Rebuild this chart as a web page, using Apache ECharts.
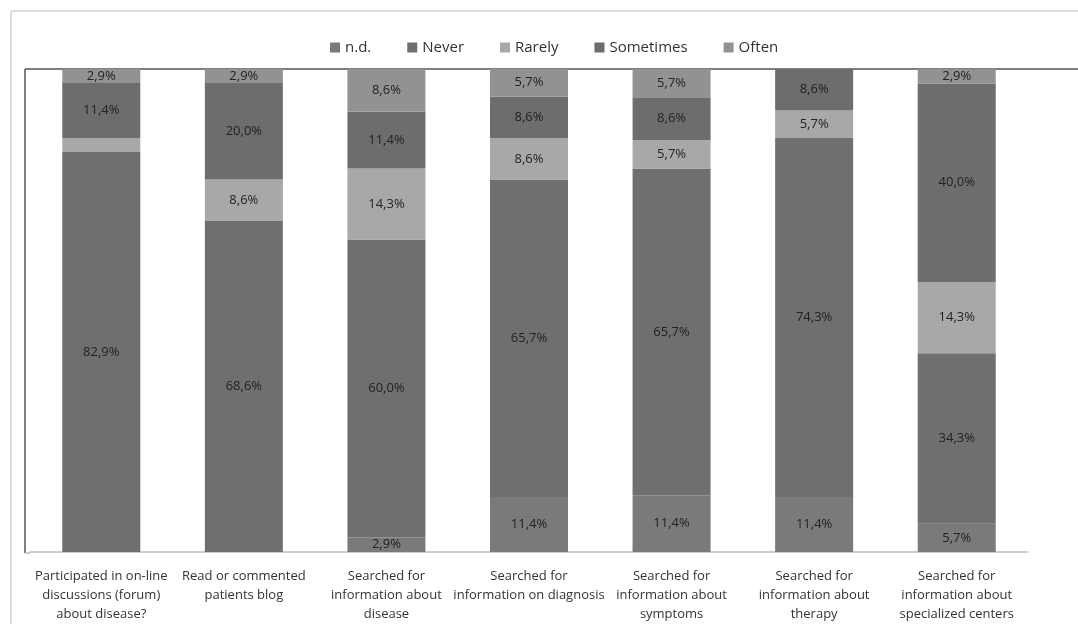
<!DOCTYPE html>
<html>
<head>
<meta charset="utf-8">
<script src="https://cdn.jsdelivr.net/npm/echarts@6/dist/echarts.min.js"></script>
<style>
html,body{margin:0;padding:0;background:#fff;}
#chart{width:1078px;height:624px;}
</style>
</head>
<body>
<div id="chart"></div>
<script>
var categories = [
  "Participated in on-line\ndiscussions (forum)\nabout disease?",
  "Read or commented\npatients blog",
  "Searched for\ninformation about\ndisease",
  "Searched for\ninformation on diagnosis",
  "Searched for\ninformation about\nsymptoms",
  "Searched for\ninformation about\ntherapy",
  "Searched for\ninformation about\nspecialized centers"
];
var seriesNames = ["n.d.", "Never", "Rarely", "Sometimes", "Often"];
var nd        = [0, 0, 2.9, 11.4, 11.4, 11.4, 5.7];
var never     = [82.9, 68.6, 60.0, 65.7, 65.7, 74.3, 34.3];
var rarely    = [2.9, 8.6, 14.3, 8.6, 5.7, 5.7, 14.3];
var sometimes = [11.4, 20.0, 11.4, 8.6, 8.6, 8.6, 40.0];
var often     = [2.9, 2.9, 8.6, 5.7, 5.7, 0, 2.9];
// labels not printed in the original: [seriesIndex, categoryIndex]
var hiddenLabels = [[2, 0]];

var allValues = [nd, never, rarely, sometimes, often];
var colors = ["#7a7a7a", "#6f6f6f", "#a8a8a8", "#6d6d6d", "#929292"];
var totals = categories.map(function (c, i) {
  return allValues.reduce(function (s, arr) { return s + arr[i]; }, 0);
});
function isHidden(si, ci) {
  return hiddenLabels.some(function (h) { return h[0] === si && h[1] === ci; });
}
var fontFam = "'Open Sans', 'Noto Sans', sans-serif";
var series = allValues.map(function (arr, si) {
  return {
    name: seriesNames[si],
    type: "bar",
    stack: "total",
    barWidth: 78,
    itemStyle: { color: colors[si] },
    label: {
      show: true,
      position: "inside",
      color: "#222",
      fontFamily: fontFam,
      fontSize: 13,
      formatter: function (p) {
        var v = arr[p.dataIndex];
        if (!v || isHidden(si, p.dataIndex)) return "";
        return v.toFixed(1).replace(".", ",") + "%";
      }
    },
    data: arr.map(function (v, ci) { return v / totals[ci] * 100; })
  };
});

var chart = echarts.init(document.getElementById("chart"));
chart.setOption({
  animation: false,
  backgroundColor: "#ffffff",
  legend: {
    data: seriesNames,
    top: 35,
    left: 325,
    itemWidth: 10,
    itemHeight: 10,
    itemGap: 36,
    icon: "rect",
    textStyle: { fontFamily: fontFam, fontSize: 15, color: "#333" }
  },
  grid: { left: 30, right: 50, top: 69, bottom: 71, containLabel: false },
  xAxis: {
    type: "category",
    data: categories,
    axisLine: { show: true, lineStyle: { color: "#bdbdbd", width: 1.5 } },
    axisTick: { show: false },
    axisLabel: {
      interval: 0,
      margin: 15,
      color: "#333",
      fontFamily: fontFam,
      fontSize: 13,
      lineHeight: 19
    }
  },
  yAxis: {
    type: "value",
    min: 0,
    max: 100,
    interval: 20,
    axisLabel: { show: false },
    splitLine: { show: false },
    axisTick: { show: false },
    axisLine: { show: false }
  },
  graphic: [
    { type: "line", shape: { x1: 11, y1: 11, x2: 1078, y2: 11 }, style: { stroke: "#cfcfcf", lineWidth: 1.5 }, silent: true },
    { type: "line", shape: { x1: 11, y1: 11, x2: 11, y2: 624 }, style: { stroke: "#cfcfcf", lineWidth: 1.5 }, silent: true },
    { type: "line", shape: { x1: 25, y1: 69, x2: 1078, y2: 69 }, style: { stroke: "#555", lineWidth: 1.5 }, silent: true },
    { type: "line", shape: { x1: 25, y1: 69, x2: 25, y2: 553 }, style: { stroke: "#555", lineWidth: 1.5 }, silent: true },
    { type: "line", shape: { x1: 25, y1: 553, x2: 30, y2: 553 }, style: { stroke: "#bdbdbd", lineWidth: 1.5 }, silent: true }
  ],
  series: series
});
</script>
</body>
</html>
